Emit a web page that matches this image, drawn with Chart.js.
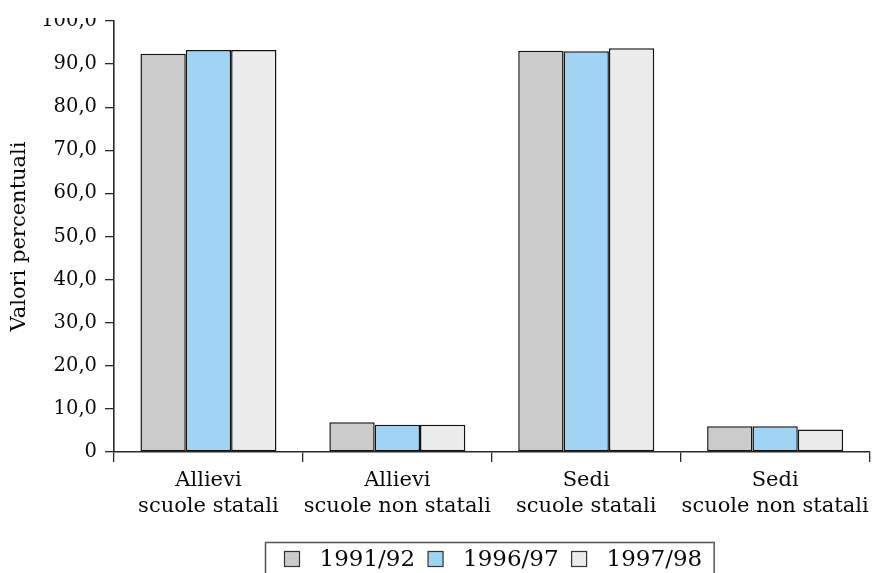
<!DOCTYPE html>
<html lang="it">
<head>
<meta charset="utf-8">
<title>Allievi e sedi: scuole statali e non statali</title>
<script src="https://cdn.jsdelivr.net/npm/chart.js@4/dist/chart.umd.min.js"></script>
<style>
  html, body { margin: 0; padding: 0; background: #ffffff; }
  #wrap { width: 874px; height: 573px; position: relative; overflow: hidden; }
</style>
</head>
<body>
<div id="wrap"><canvas id="chart" width="874" height="573"></canvas></div>
<script>
// Categories (two-line axis labels)
const categories = [
  ['Allievi', 'scuole statali'],
  ['Allievi', 'scuole non statali'],
  ['Sedi', 'scuole statali'],
  ['Sedi', 'scuole non statali']
];

// School years
const seriesNames = ['1991/92', '1996/97', '1997/98'];

// Percent values per school year, in category order
const values1991 = [92.4, 6.9, 93.1, 6.0];
const values1996 = [93.3, 6.3, 93.0, 6.0];
const values1997 = [93.3, 6.3, 93.7, 5.2];

// Y axis tick labels (Italian decimal comma)
const yTickLabels = ['0', '10,0', '20,0', '30,0', '40,0', '50,0', '60,0', '70,0', '80,0', '90,0', '100,0'];

const seriesColors = ['#cbcbcb', '#a0d4f4', '#ececec'];
const seriesValues = [values1991, values1996, values1997];

const FONT = "'DejaVu Serif', 'Liberation Serif', serif";
const INK = '#0a0a0a';
const AXIS = '#2a2a2a';

Chart.defaults.font.family = FONT;
Chart.defaults.color = INK;

// Top band: trims anything above the plot's top edge
const topTrim = {
  id: 'topTrim',
  afterDraw(chart) {
    const ctx = chart.ctx;
    ctx.save();
    ctx.fillStyle = '#ffffff';
    ctx.fillRect(0, 0, chart.width, chart.chartArea.top - 3);
    ctx.restore();
  }
};

// Framed legend row centred under the plot
const boxedLegend = {
  id: 'boxedLegend',
  afterDraw(chart) {
    const ctx = chart.ctx;
    const area = chart.chartArea;
    const fontSize = 23;
    const box = 15;
    const padL = 19, gapBoxText = 20, gapItems = 13, padR = 12;
    ctx.save();
    ctx.font = fontSize + 'px ' + FONT;
    const items = chart.data.datasets.map(ds => ({
      label: ds.label,
      fill: ds.backgroundColor,
      w: ctx.measureText(ds.label).width
    }));
    let total = padL + padR;
    items.forEach((it, i) => {
      total += box + gapBoxText + it.w + (i < items.length - 1 ? gapItems : 0);
    });
    const cx = (area.left + area.right) / 2 - 2;
    const x0 = Math.round(cx - total / 2) + 0.5;
    const top = area.bottom + 90.5;
    const midY = top + 16.5;

    ctx.strokeStyle = '#555555';
    ctx.lineWidth = 1.5;
    ctx.strokeRect(x0, top, total, 60);

    let x = x0 + padL;
    ctx.textBaseline = 'middle';
    ctx.textAlign = 'left';
    items.forEach(it => {
      ctx.fillStyle = it.fill;
      ctx.fillRect(x, midY - box / 2, box, box);
      ctx.strokeStyle = '#333333';
      ctx.lineWidth = 1.2;
      ctx.strokeRect(x, midY - box / 2, box, box);
      x += box + gapBoxText;
      ctx.fillStyle = INK;
      ctx.fillText(it.label, x, midY + 1);
      x += it.w + gapItems;
    });
    ctx.restore();
  }
};

new Chart(document.getElementById('chart'), {
  type: 'bar',
  data: {
    labels: categories,
    datasets: seriesNames.map((name, i) => ({
      label: name,
      data: seriesValues[i],
      backgroundColor: seriesColors[i],
      borderColor: '#141414',
      borderWidth: 1.5,
      borderSkipped: false,
      categoryPercentage: 0.72,
      barPercentage: 1.0
    }))
  },
  options: {
    responsive: false,
    devicePixelRatio: 1,
    animation: false,
    events: [],
    layout: { padding: { top: 21, right: 3, bottom: 54, left: 0 } },
    plugins: {
      legend: { display: false },
      tooltip: { enabled: false },
      title: { display: false }
    },
    scales: {
      x: {
        grid: {
          offset: true,
          drawOnChartArea: false,
          drawTicks: true,
          tickLength: 10,
          color: AXIS,
          lineWidth: 1.3
        },
        border: { display: true, color: AXIS, width: 1.6 },
        ticks: {
          font: { size: 21, lineHeight: 1.25 },
          color: INK,
          padding: 5,
          maxRotation: 0,
          autoSkip: false
        },
        afterFit(scale) { scale.height = 67; }
      },
      y: {
        min: 0,
        max: 100,
        grid: {
          drawOnChartArea: false,
          drawTicks: true,
          tickLength: 9,
          color: AXIS,
          lineWidth: 1.3
        },
        border: { display: true, color: AXIS, width: 1.6 },
        ticks: {
          stepSize: 10,
          font: { size: 19.5 },
          color: INK,
          padding: 8,
          callback: (value, index) => yTickLabels[index]
        },
        title: {
          display: true,
          text: 'Valori percentuali',
          font: { size: 21 },
          color: INK,
          padding: { top: 7, bottom: 0 }
        },
        afterFit(scale) { scale.width = 114; }
      }
    }
  },
  plugins: [topTrim, boxedLegend]
});
</script>
</body>
</html>
